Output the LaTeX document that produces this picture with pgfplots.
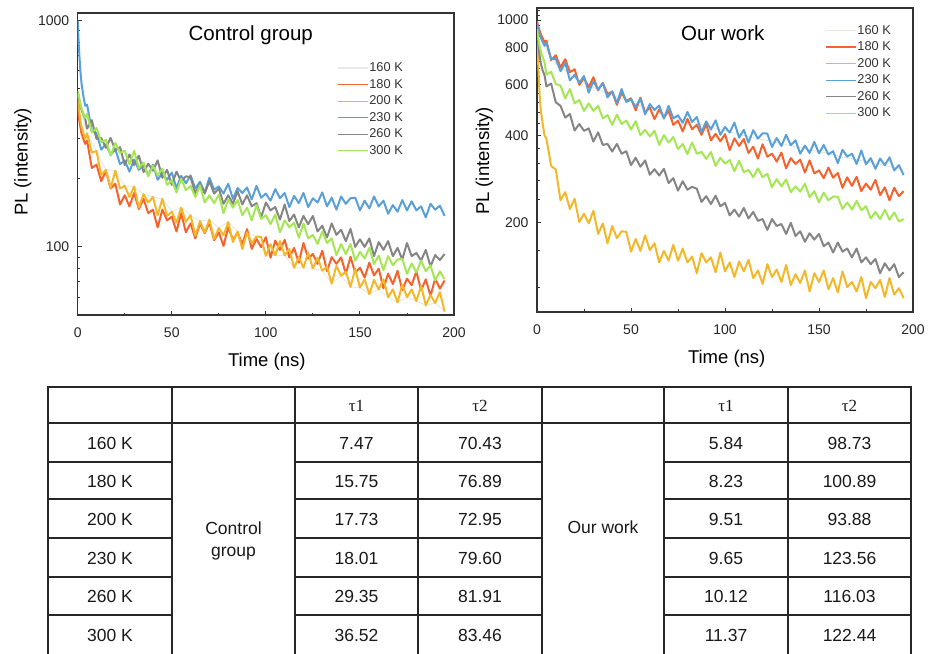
\documentclass[border=0pt]{standalone}
\usepackage{pgfplots}
\pgfplotsset{compat=1.18}
\usepackage{fontspec}
\setmainfont{Liberation Sans}
\newfontfamily\seriffont{Liberation Serif}
\definecolor{cA}{HTML}{E8E8E8}
\definecolor{cAr}{HTML}{E2E8DA}
\definecolor{cB}{HTML}{F4622D}
\definecolor{cC}{HTML}{F3B829}
\definecolor{cD}{HTML}{5AA0D8}
\definecolor{cE}{HTML}{858585}
\definecolor{cF}{HTML}{A4E654}
\definecolor{frm}{HTML}{333333}
\pgfplotsset{
  pl/.style={
    scale only axis, xmin=0, xmax=200,
    xtick={0,50,100,150,200}, minor xtick={25,75,125,175},
    tick align=inside, tick pos=left,
    major tick length=4pt, minor tick length=2.5pt,
    tick style={frm, line width=0.9pt},
    axis line style={frm, line width=1.1pt},
    /pgf/number format/assume math mode=true,
    ticklabel style={font=\fontsize{14}{16}\selectfont, text=black!85},
    xticklabel style={yshift=-9pt},
    yticklabel style={xshift=-5pt},
    legend style={draw=none, fill=none, font=\fontsize{12.8}{14}\selectfont, text=black!80,
      inner sep=0pt, row sep=4.1pt, nodes={inner sep=1pt}},
    legend cell align=left,
    legend image code/.code={\draw[##1, line width=1.2pt] (0pt,0pt) -- (30pt,0pt);},
    every axis plot/.append style={line width=2pt, mark=none, line join=round},
  }
}
\begin{document}
\begin{tikzpicture}
\path[use as bounding box] (0pt,0pt) rectangle (933pt,-653pt);
% ---------------- left: control group
\begin{axis}[ymode=log, pl, at={(77.7pt,-315pt)}, anchor=south west, width=376.3pt, height=302pt,
  ymin=50, ymax=1080, ytick={100,1000}, yticklabels={100,1000},
  minor ytick={60,70,80,90,200,300,400,500,600,700,800,900},
  legend style={at={(axis description cs:0.689,0.839)}, anchor=north west}]
\addplot[cA, line width=1pt] coordinates {(0,470)(5,317)(10,265)(15,219)(20,217)(25,186)(30,185)(35,171)(40,166)(45,163)(50,143)(55,149)(60,138)(65,130)(70,132)(75,121)(80,128.7)(85,116.8)(90,115.9)(95,111.1)(100,91.3)(105,91.7)(110,91.8)(115,80.8)(120,80.9)(125,80.3)(130,78.5)(135,68.8)(140,74.5)(145,66.5)(150,66.1)(155,61.8)(160,64.9)(165,59.9)(170,56.8)(175,60)(180,57.6)(185,55.2)(190,56.5)(195,51.8)};
\addlegendentry{160 K}
\addplot[cB] coordinates {(0,410)(0.5,380)(1,355)(1.5,335)(2,318)(3,300)(4,285)
(5,295)(7.5,223)(10,231)(12.5,195)(15,216)(17.5,181)(20,190)(22.5,154)(25,169)(27.5,151)(30,173)(32.5,147)(35,163)(37.5,141)(40,146)(42.5,122)(45,146)(47.5,131)(50,136)(52.5,117)(55,141)(57.5,116)(60,127)(62.5,109)(65,127)(67.5,115)(70,128)(72.5,107)(75,116)(77.5,101)(80,122)(82.5,107.5)(85,115.7)(87.5,102.7)(90,119.8)(92.5,98)(95,108.4)(97.5,99.7)(100,110.4)(102.5,89.6)(105,106.6)(107.5,96.9)(110,107.4)(112.5,89.8)(115,98.9)(117.5,85.2)(120,104)(122.5,88.8)(125,93)(127.5,84.1)(130,96.2)(132.5,78)(135,90.1)(137.5,84.2)(140,89.9)(142.5,76)(145,90.4)(147.5,76.9)(150,80.9)(152.5,73.2)(155,85.2)(157.5,74.8)(160,80.1)(162.5,65.6)(165,76.1)(167.5,68.5)(170,78.4)(172.5,64.4)(175,72.4)(177.5,67.7)(180,78)(182.5,64.2)(185,71.9)(187.5,60.7)(190,72.4)(192.5,65.4)(195,71)};
\addlegendentry{180 K}
\addplot[cC] coordinates {(0,470)(0.5,420)(1,385)(1.5,360)(2,340)(3,318)(4,300)
(5,317)(7.5,261)(10,265)(12.5,208)(15,219)(17.5,182)(20,217)(22.5,181)(25,186)(27.5,166)(30,185)(32.5,149)(35,171)(37.5,157)(40,166)(42.5,138)(45,163)(47.5,137)(50,143)(52.5,128)(55,149)(57.5,129)(60,138)(62.5,112)(65,130)(67.5,116)(70,132)(72.5,108.4)(75,121)(77.5,112.4)(80,128.7)(82.5,105)(85,116.8)(87.5,97.9)(90,115.9)(92.5,103.9)(95,111.1)(97.5,110.6)(100,91.3)(102.5,102.8)(105,91.7)(107.5,106.1)(110,91.8)(112.5,97.9)(115,80.8)(117.5,90)(120,80.9)(122.5,94.3)(125,80.3)(127.5,89.6)(130,78.5)(132.5,81.7)(135,68.8)(137.5,82.5)(140,74.5)(142.5,77.8)(145,66.5)(147.5,80)(150,66.1)(152.5,71.9)(155,61.8)(157.5,71.5)(160,64.9)(162.5,71.9)(165,59.9)(167.5,64.9)(170,56.8)(172.5,68)(175,60)(177.5,64.8)(180,57.6)(182.5,67.4)(185,55.2)(187.5,61.3)(190,56.5)(192.5,63.1)(195,51.8)};
\addlegendentry{200 K}
\addplot[cD] coordinates {(0,1000)(0.5,800)(1,680)(1.5,590)(2,530)(3,465)(4,420)
(5,425)(7.5,325)(10,318)(12.5,269)(15,284)(17.5,255)(20,270)(22.5,232)(25,241)(27.5,215)(30,243)(32.5,219)(35,229)(37.5,207)(40,231)(42.5,198)(45,212)(47.5,198)(50,213)(52.5,182)(55,206)(57.5,191)(60,207)(62.5,181)(65,194)(67.5,174)(70,202)(72.5,179)(75,185)(77.5,172)(80,190)(82.5,163)(85,182)(87.5,173)(90,183)(92.5,162)(95,186)(97.5,165)(100,172)(102.5,160)(105,180)(107.5,164)(110,173)(112.5,150)(115,168)(117.5,156)(120,173)(122.5,150)(125,164)(127.5,157)(130,174)(132.5,151)(135,165)(137.5,146)(140,167)(142.5,155)(145,164)(147.5,165)(150,145)(152.5,160)(155,148)(157.5,167)(160,151)(162.5,160)(165,140)(167.5,153)(170,143)(172.5,161)(175,145)(177.5,159)(180,145)(182.5,151)(185,135)(187.5,155)(190,146)(192.5,152)(195,137)};
\addlegendentry{230 K}
\addplot[cE] coordinates {(0,480)(0.5,460)(1,440)(1.5,420)(2,405)(3,385)(4,368)
(5,333)(7.5,363)(10,300)(12.5,303)(15,274)(17.5,303)(20,267)(22.5,276)(25,230)(27.5,256)(30,230)(32.5,253)(35,214)(37.5,233)(40,217)(42.5,241)(45,202)(47.5,219)(50,188)(52.5,215)(55,195)(57.5,205)(60,203)(62.5,172)(65,190)(67.5,172)(70,195)(72.5,172)(75,181)(77.5,155)(80,169)(82.5,155)(85,176)(87.5,154)(90,169)(92.5,151)(95,156)(97.5,135)(100,157)(102.5,145)(105,150)(107.5,132)(110,154)(112.5,130)(115,139)(117.5,122)(120,137)(122.5,126)(125,137)(127.5,117)(130,124)(132.5,110)(135,127)(137.5,113)(140,119)(142.5,106)(145,120)(147.5,100)(150,108)(152.5,100)(155,109)(157.5,91)(160,105)(162.5,97)(165,106)(167.5,91)(170,99)(172.5,88)(175,104)(177.5,91)(180,94)(182.5,87)(185,97)(187.5,82)(190,92)(192.5,87.5)(195,93)};
\addlegendentry{260 K}
\addplot[cF] coordinates {(0,490)(0.5,470)(1,445)(1.5,425)(2,410)(3,388)(4,372)
(5,387)(7.5,320)(10,335)(12.5,291)(15,297)(17.5,253)(20,288)(22.5,260)(25,266)(27.5,232)(30,266)(32.5,223)(35,236)(37.5,205)(40,228)(42.5,207)(45,222)(47.5,188)(50,197)(52.5,174)(55,200)(57.5,178)(60,186)(62.5,166)(65,187)(67.5,157)(70,169)(72.5,156)(75,170)(77.5,141)(80,162)(82.5,149)(85,161)(87.5,138)(90,149)(92.5,131)(95,153)(97.5,133)(100,138)(102.5,126)(105,139)(107.5,116)(110,131)(112.5,122)(115,128)(117.5,110)(120,127)(122.5,109)(125,113)(127.5,103)(130,117)(132.5,104)(135,109)(137.5,92)(140,103)(142.5,93)(145,103)(147.5,87)(150,95)(152.5,89)(155,99)(157.5,84)(160,91.5)(162.5,79)(165,91)(167.5,83)(170,88)(172.5,88.5)(175,76)(177.5,84.5)(180,77)(182.5,87)(185,78)(187.5,83)(190,71)(192.5,78)(195,72)};
\addlegendentry{300 K}
\end{axis}
% ---------------- right: our work
\begin{axis}[ymode=log, pl, at={(537pt,-312pt)}, anchor=south west, width=376pt, height=304pt,
  ymin=98.5, ymax=1100, ytick={200,400,600,800,1000}, yticklabels={200,400,600,800,1000},
  minor ytick={120,160,240,280,320,360,440,480,520,560,640,680,720,760,840,880,920,960,1040,1080},
  legend style={at={(axis description cs:0.766,0.947)}, anchor=north west}]
\addplot[cAr, line width=1pt] coordinates {(0,960)(5,790)(10,710)(20,630)(30,585)(40,550)(50,520)(60,492)(70,470)(80,450)(90,432)(100,415)(110,400)(120,387)(130,375)(140,363)(150,352)(160,340)(170,330)(180,320)(190,310)(195,306)};
\addlegendentry{160 K}
\addplot[cB] coordinates {(0,990)(0.5,960)(1,935)(1.5,915)(2,895)(3,865)(4,840)
(5,849)(7.5,727)(10,756)(12.5,687)(15,733)(17.5,661)(20,676)(22.5,598)(25,630)(27.5,587)(30,635)(32.5,573)(35,607)(37.5,556)(40,566)(42.5,510)(45,562)(47.5,526)(50,537)(52.5,488)(55,540)(57.5,480)(60,499)(62.5,455)(65,492)(67.5,461)(70,487)(72.5,435)(75,450)(77.5,413)(80,456)(82.5,420)(85,435)(87.5,402)(90,437)(92.5,385)(95,405)(97.5,382)(100,404)(102.5,356)(105,391)(107.5,368)(110,389)(112.5,348)(115,366)(117.5,333)(120,373)(122.5,338)(125,346)(127.5,325)(130,349)(132.5,308)(135,334)(137.5,319)(140,330)(142.5,298)(145,328)(147.5,296)(150,303)(152.5,285)(155,310)(157.5,286)(160,297)(162.5,264)(165,287)(167.5,268)(170,288)(172.5,257)(175,273)(177.5,260)(180,281)(182.5,249)(185,265)(187.5,239)(190,264)(192.5,247)(195,257)};
\addlegendentry{180 K}
\addplot[cC] coordinates {(0,950)(0.5,740)(1,620)(1.5,540)(2,490)(3,440)(4,400)
(5,390)(7.5,314)(10,305)(12.5,239)(15,255)(17.5,223)(20,242)(22.5,201)(25,215)(27.5,199)(30,220)(32.5,183)(35,199)(37.5,170)(40,195)(42.5,177)(45,187)(47.5,186)(50,159)(52.5,176)(55,160)(57.5,181)(60,161)(62.5,170)(65,146)(67.5,160)(70,148)(72.5,168)(75,148)(77.5,163)(80,146)(82.5,153)(85,134)(87.5,157)(90,146)(92.5,152)(95,135)(97.5,158)(100,136)(102.5,146)(105,130)(107.5,147)(110,136)(112.5,149)(115,129)(117.5,137)(120,123)(122.5,144)(125,130)(127.5,138)(130,125)(132.5,143)(135,122)(137.5,133)(140,124)(142.5,137)(145,116)(147.5,134)(150,125)(152.5,137)(155,118)(157.5,129)(160,115)(162.5,136)(165,120)(167.5,125)(170,116)(172.5,130)(175,110)(177.5,125)(180,119)(182.5,127)(185,111)(187.5,129)(190,113)(192.5,119)(195,110)};
\addlegendentry{200 K}
\addplot[cD] coordinates {(0,980)(0.5,940)(1,910)(1.5,890)(2,870)(3,840)(4,815)
(5,834)(7.5,734)(10,735)(12.5,666)(15,712)(17.5,620)(20,647)(22.5,608)(25,641)(27.5,562)(30,615)(32.5,576)(35,606)(37.5,541)(40,568)(42.5,517)(45,578)(47.5,522)(50,533)(52.5,501)(55,537)(57.5,473)(60,513)(62.5,490)(65,507)(67.5,457)(70,506)(72.5,458)(75,469)(77.5,442)(80,482)(82.5,445)(85,463)(87.5,411)(90,447)(92.5,419)(95,451)(97.5,402)(100,428)(102.5,409)(105,443)(107.5,393)(110,418)(112.5,378)(115,417)(117.5,390)(120,407)(122.5,406)(125,365)(127.5,392)(130,368)(132.5,402)(135,370)(137.5,385)(140,346)(142.5,369)(145,348)(147.5,380)(150,347)(152.5,371)(155,344)(157.5,353)(160,321)(162.5,357)(165,338)(167.5,346)(170,319)(172.5,355)(175,318)(177.5,334)(180,307)(182.5,333)(185,316)(187.5,336)(190,303)(192.5,316)(195,292)};
\addlegendentry{230 K}
\addplot[cE] coordinates {(0,930)(0.5,850)(1,790)(1.5,745)(2,710)(3,670)(4,645)
(5,590)(7.5,604)(10,520)(12.5,506)(15,461)(17.5,474)(20,416)(22.5,438)(25,415)(27.5,423)(30,381)(32.5,410)(35,371)(37.5,374)(40,352)(42.5,374)(45,346)(47.5,353)(50,316)(52.5,335)(55,312)(57.5,328)(60,293)(62.5,306)(65,291)(67.5,307)(70,274)(72.5,285)(75,258)(77.5,278)(80,260)(82.5,266)(85,262)(87.5,236)(90,247)(92.5,232)(95,248)(97.5,228)(100,234)(102.5,212)(105,222)(107.5,210)(110,225)(112.5,207)(115,218)(117.5,203)(120,206)(122.5,189)(125,206)(127.5,195)(130,198)(132.5,183)(135,200)(137.5,180)(140,187)(142.5,172)(145,184)(147.5,175)(150,183)(152.5,166)(155,171)(157.5,158)(160,171)(162.5,159)(165,163)(167.5,152)(170,163)(172.5,146)(175,152)(177.5,144)(180,150)(182.5,134)(185,145)(187.5,137)(190,144)(192.5,130)(195,135)};
\addlegendentry{260 K}
\addplot[cF] coordinates {(0,930)(0.5,880)(1,840)(1.5,805)(2,780)(3,745)(4,715)
(5,649)(7.5,663)(10,601)(12.5,594)(15,536)(17.5,578)(20,516)(22.5,530)(25,486)(27.5,516)(30,486)(32.5,506)(35,458)(37.5,470)(40,435)(42.5,472)(45,438)(47.5,450)(50,419)(52.5,448)(55,401)(57.5,418)(60,397)(62.5,415)(65,371)(67.5,401)(70,378)(72.5,395)(75,359)(77.5,374)(80,345)(82.5,378)(85,346)(87.5,351)(90,332)(92.5,351)(95,314)(97.5,335)(100,320)(102.5,329)(105,301)(107.5,327)(110,299)(112.5,304)(115,287)(117.5,308)(120,287)(122.5,295)(125,265)(127.5,283)(130,267)(132.5,282)(135,255)(137.5,267)(140,256)(142.5,273)(145,245)(147.5,257)(150,235)(152.5,254)(155,239)(157.5,246)(160,246)(162.5,223)(165,235)(167.5,222)(170,238)(172.5,221)(175,228)(177.5,207)(180,218)(182.5,206)(185,222)(187.5,205)(190,217)(192.5,202)(195,206)};
\addlegendentry{300 K}
\end{axis}
% ---------------- titles and axis labels
\node[anchor=base, font=\fontsize{20.5}{22}\selectfont] at (250.8pt,-40.7pt) {Control group};
\node[anchor=base, font=\fontsize{20.5}{22}\selectfont] at (722.8pt,-40pt) {Our work};
\node[anchor=base, font=\fontsize{18.5}{20}\selectfont] at (266.8pt,-366pt) {Time (ns)};
\node[anchor=base, font=\fontsize{18.5}{20}\selectfont] at (726.7pt,-363.3pt) {Time (ns)};
\node[anchor=base, rotate=90, font=\fontsize{18.5}{20}\selectfont] at (27.5pt,-162pt) {PL (intensity)};
\node[anchor=base, rotate=90, font=\fontsize{18.5}{20}\selectfont] at (489pt,-161pt) {PL (intensity)};
% ---------------- table
\begin{scope}[x=1pt, y=-1pt]
\draw[line width=1.3pt, black!85, line cap=rect]
  (48,387) -- (911,387)
  (48,423) -- (911,423)
  (48,387) -- (48,653) (172,387) -- (172,653) (295,387) -- (295,653) (418,387) -- (418,653)
  (542,387) -- (542,653) (664,387) -- (664,653) (788,387) -- (788,653) (911,387) -- (911,653);
\foreach \yy in {462,499,538,577,615}{
  \draw[line width=1.3pt, black!85] (48,\yy) -- (172,\yy) (295,\yy) -- (542,\yy) (664,\yy) -- (911,\yy);
}
\begin{scope}[every node/.style={anchor=base, font=\fontsize{17.5}{21}\selectfont, text=black!90}]
\node[font=\seriffont\fontsize{17}{20}\selectfont] at (356.5,411) {τ1};
\node[font=\seriffont\fontsize{17}{20}\selectfont] at (480,411) {τ2};
\node[font=\seriffont\fontsize{17}{20}\selectfont] at (726,411) {τ1};
\node[font=\seriffont\fontsize{17}{20}\selectfont] at (849.5,411) {τ2};
\node at (110,449) {160 K};
\node at (110,487) {180 K};
\node at (110,525) {200 K};
\node at (110,564) {230 K};
\node at (110,602.5) {260 K};
\node at (110,641) {300 K};
\node at (233.5,534) {Control};
\node at (233.5,556) {group};
\node at (603,533) {Our work};
\node at (356.5,449) {7.47};   \node at (480,449) {70.43};
\node at (356.5,487) {15.75};  \node at (480,487) {76.89};
\node at (356.5,525) {17.73};  \node at (480,525) {72.95};
\node at (356.5,564) {18.01};  \node at (480,564) {79.60};
\node at (356.5,602.5) {29.35};\node at (480,602.5) {81.91};
\node at (356.5,641) {36.52};  \node at (480,641) {83.46};
\node at (726,449) {5.84};     \node at (849.5,449) {98.73};
\node at (726,487) {8.23};     \node at (849.5,487) {100.89};
\node at (726,525) {9.51};     \node at (849.5,525) {93.88};
\node at (726,564) {9.65};     \node at (849.5,564) {123.56};
\node at (726,602.5) {10.12};  \node at (849.5,602.5) {116.03};
\node at (726,641) {11.37};    \node at (849.5,641) {122.44};
\end{scope}
\end{scope}
\end{tikzpicture}
\end{document}
